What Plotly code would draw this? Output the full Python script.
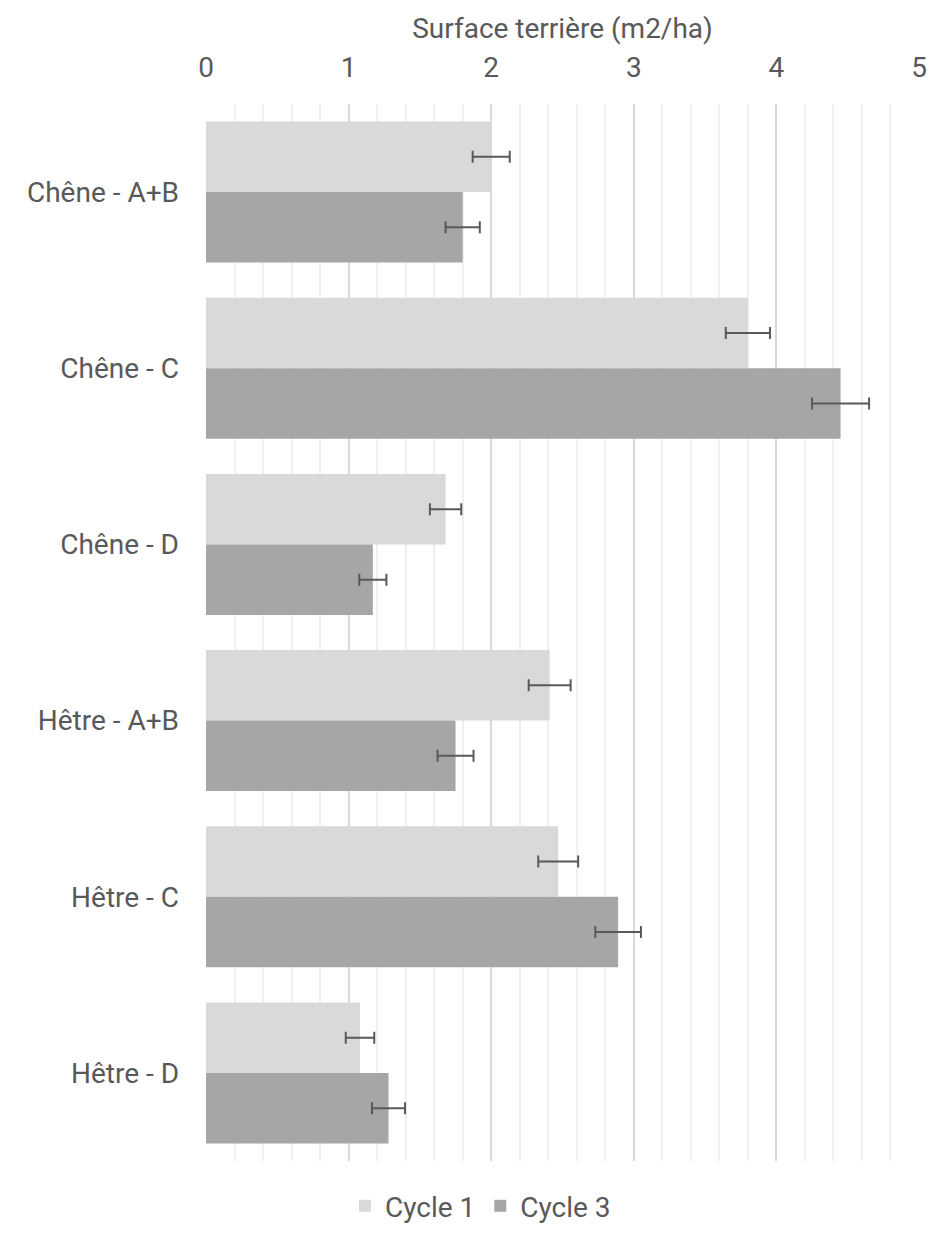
import plotly.graph_objects as go

categories = ["Chêne - A+B", "Chêne - C", "Chêne - D", "Hêtre - A+B", "Hêtre - C", "Hêtre - D"]
cycle1 = [2.00, 3.80, 1.68, 2.41, 2.47, 1.08]
cycle1_err = [0.13, 0.155, 0.11, 0.147, 0.14, 0.10]
cycle3 = [1.80, 4.45, 1.17, 1.75, 2.89, 1.28]
cycle3_err = [0.12, 0.20, 0.095, 0.126, 0.16, 0.116]

text_color = "#595959"
font_family = "Roboto, 'Noto Sans', sans-serif"
fsize = 28

fig = go.Figure()
fig.add_trace(go.Bar(
    name="Cycle 1", y=categories, x=cycle1, orientation="h",
    marker=dict(color="#d9d9d9", line=dict(width=0)),
    error_x=dict(type="data", array=cycle1_err, color="#595959", thickness=2, width=6),
))
fig.add_trace(go.Bar(
    name="Cycle 3", y=categories, x=cycle3, orientation="h",
    marker=dict(color="#a6a6a6", line=dict(width=0)),
    error_x=dict(type="data", array=cycle3_err, color="#595959", thickness=2, width=6),
))

fig.update_layout(
    width=932, height=1236,
    margin=dict(l=206, r=13, t=104, b=75, autoexpand=False),
    paper_bgcolor="white", plot_bgcolor="white",
    barmode="group", bargap=0.2, bargroupgap=0,
    font=dict(family=font_family, color=text_color, size=fsize),
    showlegend=True,
    legend=dict(orientation="h", x=0.385, xanchor="center", y=-0.019, yanchor="top",
                font=dict(size=fsize, color=text_color), itemwidth=30, traceorder="normal"),
    xaxis=dict(
        side="top", range=[0, 5], dtick=1, tick0=0, automargin=False,
        showgrid=True, gridcolor="#d9d9d9", gridwidth=2,
        zeroline=False, showline=False, ticks="", ticklabelstandoff=20,
        tickfont=dict(size=fsize, color=text_color),
        title=dict(text="Surface terrière (m2/ha)", font=dict(size=fsize, color=text_color), standoff=4),
        minor=dict(dtick=0.2, tick0=0, showgrid=True, gridcolor="#efefef", gridwidth=2),
    ),
    yaxis=dict(
        autorange="reversed", showgrid=False, zeroline=False, showline=False, ticks="",
        automargin=False,
        tickfont=dict(size=fsize, color=text_color), ticklabelstandoff=26,
    ),
)

fig.write_html("out.html")
